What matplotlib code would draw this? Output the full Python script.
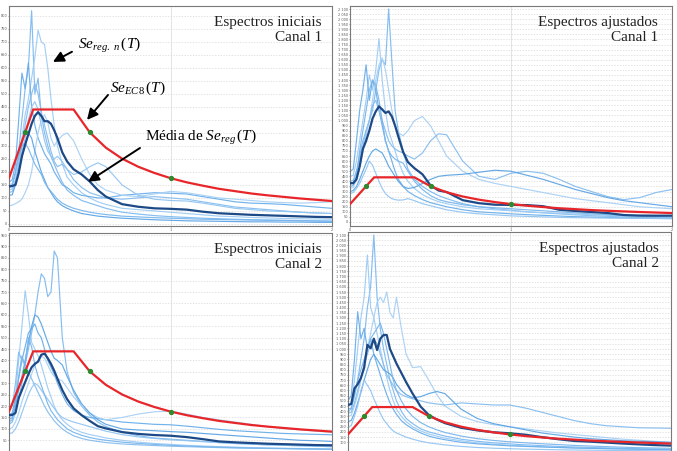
import matplotlib
matplotlib.use("Agg")
import matplotlib.pyplot as plt
import numpy as np

# ---------------- data ----------------
periods = [0, 0.02, 0.04, 0.06, 0.08, 0.10, 0.12, 0.14, 0.16, 0.18, 0.20, 0.22, 0.24, 0.26, 0.28,
           0.30, 0.33, 0.36, 0.40, 0.45, 0.50, 0.55, 0.60, 0.70, 0.80, 0.90, 1.00, 1.10, 1.20, 1.30,
           1.40, 1.50, 1.60, 1.70, 1.80, 1.90, 2.00]

# EC8 elastic spectrum (corner periods and ordinates)
ec8_T = [0.0, 0.15, 0.40, 0.50, 0.60, 0.70, 0.80, 0.90, 1.00, 1.10, 1.20, 1.30, 1.40, 1.50, 1.60, 1.70, 1.80, 1.90, 2.00]
ec8_Se = [176, 440, 440, 352, 293, 251, 220, 196, 176, 160, 147, 135, 126, 117, 110, 104, 98, 93, 88]
ec8_dots_T = [0.1, 0.5, 1.0]
ec8_dots_Se = [352, 352, 176]

# --- Espectros iniciais, Canal 1
tl_mean = [144, 146, 150, 195, 260, 305, 345, 385, 415, 430, 415, 395, 395, 385, 360, 330, 275, 240, 210, 190,
           163, 130, 105, 76, 66, 60, 58, 55, 47, 41, 38, 35, 33, 31, 29, 27, 26]
tl_r1 = [140, 150, 200, 280, 400, 520, 600, 820, 500, 560, 420, 350, 300, 260, 230, 200, 160, 130, 110, 90,
         80, 70, 60, 45, 38, 32, 28, 25, 22, 20, 18, 16, 15, 14, 13, 12, 11]
tl_r2 = [150, 155, 190, 250, 330, 420, 480, 560, 640, 745, 700, 690, 600, 480, 380, 300, 230, 180, 150, 120,
         100, 85, 75, 60, 55, 50, 45, 40, 35, 30, 28, 25, 23, 21, 20, 19, 18]
tl_r3 = [160, 170, 230, 400, 580, 520, 620, 450, 380, 330, 300, 270, 250, 230, 200, 180, 150, 140, 120, 110,
         105, 100, 100, 110, 115, 120, 118, 115, 105, 95, 85, 80, 78, 75, 70, 65, 60]
tl_r4 = [70, 72, 78, 85, 95, 120, 150, 200, 280, 350, 400, 420, 390, 330, 300, 320, 340, 350, 320, 250,
         190, 150, 130, 110, 105, 115, 125, 120, 110, 100, 95, 90, 85, 82, 80, 82, 85]
tl_r5 = [120, 125, 160, 230, 300, 380, 450, 500, 540, 500, 430, 380, 330, 280, 240, 220, 230, 210, 170, 140,
         120, 110, 100, 95, 100, 105, 100, 95, 85, 75, 65, 60, 55, 50, 45, 42, 40]
tl_r6 = [110, 112, 150, 210, 260, 300, 350, 330, 280, 240, 200, 170, 140, 120, 100, 85, 70, 60, 50, 40,
         35, 30, 27, 22, 19, 16, 14, 12, 11, 10, 9, 8, 8, 7, 7, 6, 6]
tl_r7 = [130, 135, 170, 220, 280, 330, 400, 450, 470, 440, 380, 320, 280, 260, 250, 260, 240, 210, 190, 200,
         220, 235, 220, 150, 110, 95, 90, 88, 80, 70, 60, 55, 50, 48, 45, 42, 40]
tl_r8 = [140, 145, 200, 260, 300, 310, 290, 260, 230, 210, 190, 160, 140, 125, 110, 95, 80, 70, 60, 52,
         45, 40, 36, 30, 27, 24, 22, 20, 18, 17, 16, 15, 14, 13, 12, 11, 10]

# --- Espectros ajustados, Canal 1
tr_mean = [382, 382, 420, 546, 720, 800, 900, 1020, 1090, 1140, 1110, 1075, 1090, 1040, 950, 842, 690, 590, 530, 470,
           360, 310, 295, 215, 185, 170, 168, 166, 155, 120, 108, 98, 88, 68, 63, 62, 62]
tr_r1 = [380, 390, 500, 650, 800, 900, 1000, 1100, 1300, 1500, 1600, 1550, 2100, 1580, 1100, 900, 700, 520, 420, 350,
         300, 260, 230, 180, 150, 130, 115, 100, 90, 80, 70, 62, 56, 50, 46, 42, 40]
tr_r2 = [450, 460, 600, 800, 1000, 1200, 1450, 1300, 1500, 1810, 1400, 1100, 900, 800, 700, 600, 480, 400, 330, 270,
         230, 200, 180, 150, 130, 120, 110, 100, 92, 85, 78, 70, 65, 60, 55, 50, 45]
tr_r3 = [500, 520, 800, 1100, 1300, 1550, 1200, 1400, 1300, 1100, 950, 800, 700, 600, 500, 420, 350, 300, 260, 220,
         190, 170, 150, 120, 100, 90, 80, 72, 65, 58, 52, 48, 44, 40, 37, 35, 33]
tr_r4 = [330, 340, 420, 550, 700, 850, 1000, 1200, 1400, 1550, 1620, 1500, 1300, 1100, 950, 880, 850, 900, 1000, 1040,
         950, 800, 650, 500, 420, 380, 350, 320, 290, 260, 230, 210, 190, 170, 150, 140, 130]
tr_r5 = [400, 410, 500, 600, 750, 900, 1000, 1150, 1200, 1100, 1000, 900, 800, 750, 720, 700, 680, 650, 620, 680,
         800, 870, 860, 600, 450, 420, 480, 500, 480, 420, 350, 300, 250, 220, 240, 290, 320]
tr_r6 = [300, 310, 350, 420, 500, 580, 650, 700, 720, 700, 680, 620, 550, 500, 450, 400, 350, 330, 340, 380,
         420, 450, 460, 470, 490, 510, 500, 460, 420, 370, 320, 280, 240, 210, 190, 170, 150]
tr_r7 = [280, 290, 330, 380, 450, 520, 600, 560, 480, 400, 330, 280, 250, 230, 220, 215, 217, 230, 210, 180,
         160, 140, 120, 95, 80, 70, 60, 55, 50, 45, 42, 40, 38, 36, 35, 34, 33]
tr_r8 = [350, 360, 450, 700, 900, 1100, 1300, 1400, 1350, 1200, 1000, 800, 700, 650, 620, 600, 580, 500, 400, 320,
         260, 220, 200, 170, 150, 140, 130, 120, 110, 100, 90, 80, 72, 65, 58, 52, 48]

# --- Espectros iniciais, Canal 2
bl_mean = [161, 161, 170, 235, 270, 305, 340, 370, 385, 395, 425, 430, 410, 385, 355, 320, 270, 230, 190, 160,
           135, 112, 102, 86, 78, 73, 70, 64, 55, 45, 41, 38, 35, 33, 31, 29, 28]
bl_r1 = [120, 130, 170, 230, 300, 380, 450, 520, 600, 700, 780, 760, 680, 700, 880, 850, 500, 350, 260, 200,
         160, 130, 110, 85, 70, 60, 55, 50, 45, 40, 36, 33, 30, 28, 26, 24, 22]
bl_r2 = [150, 160, 250, 400, 550, 706, 600, 480, 450, 420, 380, 330, 280, 240, 200, 170, 140, 120, 100, 85,
         75, 68, 60, 50, 42, 36, 32, 28, 25, 22, 20, 18, 16, 15, 14, 13, 12]
bl_r3 = [160, 170, 230, 320, 400, 460, 520, 540, 560, 520, 500, 450, 400, 370, 340, 300, 250, 210, 180, 160,
         150, 145, 140, 130, 125, 120, 118, 112, 105, 98, 92, 88, 84, 80, 78, 76, 74]
bl_r4 = [100, 105, 130, 170, 220, 260, 300, 340, 380, 400, 420, 410, 380, 350, 330, 320, 310, 280, 240, 200,
         170, 150, 140, 150, 165, 175, 178, 165, 150, 140, 130, 120, 110, 102, 96, 90, 85]
bl_r5 = [180, 200, 300, 437, 400, 380, 350, 320, 290, 260, 230, 200, 175, 155, 135, 120, 100, 85, 70, 58,
         50, 45, 40, 34, 30, 27, 24, 22, 20, 18, 16, 15, 14, 13, 12, 11, 10]
bl_r6 = [140, 150, 200, 270, 330, 400, 480, 550, 600, 590, 560, 520, 480, 440, 410, 400, 380, 330, 270, 210,
         170, 140, 120, 100, 95, 92, 88, 85, 80, 75, 70, 65, 60, 55, 50, 48, 45]
bl_r7 = [80, 82, 100, 130, 170, 210, 250, 280, 300, 290, 270, 250, 230, 210, 190, 170, 150, 140, 130, 120,
         110, 100, 90, 75, 65, 58, 52, 48, 44, 40, 36, 33, 30, 28, 26, 24, 22]
bl_r8 = [130, 140, 220, 330, 420, 380, 500, 460, 380, 330, 290, 250, 210, 180, 160, 140, 120, 100, 85, 72,
         62, 55, 50, 42, 36, 32, 28, 25, 22, 20, 18, 16, 15, 14, 13, 12, 11]

# --- Espectros ajustados, Canal 2
br_mean = [460, 470, 620, 660, 720, 820, 1040, 1007, 1100, 990, 1100, 1135, 1135, 1000, 930, 860, 770, 680, 570, 444,
           364, 320, 285, 240, 215, 197, 187, 173, 150, 130, 113, 106, 97, 88, 80, 73, 68]
br_r1 = [400, 420, 550, 700, 900, 1100, 1400, 1600, 2100, 1500, 1200, 1000, 850, 700, 600, 500, 400, 330, 280, 230,
         200, 180, 160, 130, 110, 95, 85, 75, 68, 60, 55, 50, 46, 42, 38, 35, 32]
br_r2 = [450, 470, 700, 1000, 1300, 1500, 1907, 1400, 1300, 1150, 1000, 850, 720, 600, 500, 420, 350, 300, 250, 210,
         180, 160, 140, 115, 95, 82, 72, 64, 57, 51, 46, 42, 38, 35, 32, 30, 28]
br_r3 = [500, 550, 900, 1360, 1100, 1200, 1000, 1100, 950, 850, 750, 650, 560, 480, 420, 370, 310, 270, 230, 190,
         160, 140, 125, 100, 85, 75, 66, 60, 55, 50, 45, 42, 39, 36, 33, 31, 29]
br_r4 = [350, 360, 450, 560, 700, 850, 1000, 1150, 1300, 1450, 1500, 1450, 1550, 1350, 1300, 1500, 1200, 950, 820, 830,
         700, 560, 450, 350, 300, 270, 250, 230, 210, 190, 175, 160, 145, 130, 120, 110, 100]
br_r5 = [380, 390, 480, 600, 720, 850, 950, 1050, 1100, 1050, 950, 850, 750, 700, 650, 600, 560, 540, 520, 500,
         480, 470, 460, 480, 470, 460, 460, 430, 390, 350, 310, 280, 260, 250, 240, 238, 235]
br_r6 = [300, 310, 380, 480, 580, 700, 800, 900, 950, 900, 850, 800, 780, 760, 720, 660, 600, 560, 530, 540,
         570, 590, 570, 420, 330, 280, 250, 220, 190, 170, 150, 135, 125, 115, 110, 105, 100]
br_r7 = [250, 260, 350, 450, 600, 700, 650, 600, 520, 450, 380, 320, 280, 240, 210, 190, 170, 150, 130, 110,
         95, 85, 75, 60, 50, 43, 38, 34, 31, 28, 26, 24, 22, 21, 20, 19, 18]
br_r8 = [420, 430, 550, 700, 800, 900, 1000, 1100, 1150, 1200, 1250, 1150, 1000, 850, 700, 600, 500, 420, 350, 290,
         250, 220, 195, 160, 135, 118, 105, 95, 86, 78, 70, 64, 58, 53, 48, 45, 42]

panel_titles = ["Espectros iniciais\nCanal 1", "Espectros ajustados\nCanal 1",
                "Espectros iniciais\nCanal 2", "Espectros ajustados\nCanal 2"]

# ---------------- style ----------------
light_colors = ["#7fbaf0", "#9fccf5", "#6aaeea", "#a8d0f4", "#86bdef", "#5da4e4", "#93c5f2", "#78b5ec"]
mean_color = "#1d4a86"
red = "#e8262a"
dot_color = "#2f8a2f"

plt.rcParams["font.family"] = ["DejaVu Sans"]
plt.rcParams["mathtext.fontset"] = "custom"
plt.rcParams["mathtext.rm"] = "Liberation Serif"
plt.rcParams["mathtext.it"] = "Liberation Serif:italic"

W, H = 677, 451
fig = plt.figure(figsize=(W / 100, H / 100), dpi=100)


def px_axes(left, top, right, bottom):
    return fig.add_axes([left / W, 1 - bottom / H, (right - left) / W, (bottom - top) / H])


def fmt(v):
    s = str(int(v))
    if len(s) > 3:
        s = s[:-3] + " " + s[-3:]
    return s


def draw_panel(ax, records, mean, ymin_tick, ymax_tick, ylim, title, title_x, show_x=True):
    for k, rec in enumerate(records):
        ax.plot(periods, rec, color=light_colors[k % len(light_colors)], lw=0.85, alpha=0.95, zorder=2)
    ax.plot(periods, mean, color=mean_color, lw=1.6, zorder=3)
    ax.plot(ec8_T, ec8_Se, color=red, lw=1.6, zorder=4)
    ax.plot(ec8_dots_T, ec8_dots_Se, 'o', color=dot_color, ms=2.8, zorder=5)
    ax.set_xlim(0, 2)
    ax.set_ylim(*ylim)
    yt = np.arange(ymin_tick, ymax_tick + 1, 50)
    ax.set_yticks(yt)
    ax.set_yticklabels([fmt(v) for v in yt])
    ax.set_xticks([0, 1, 2])
    ax.set_xticklabels(["0", "1", "2"])
    ax.tick_params(axis='both', labelsize=2.5, length=1, width=0.4, pad=0.3, colors="#555555")
    ax.grid(axis='y', color="#d8d8d8", lw=0.5, ls=(0, (2, 2)))
    ax.grid(axis='x', color="#d8d8d8", lw=0.5, ls='-')
    ax.set_axisbelow(True)
    for sp in ax.spines.values():
        sp.set_color("#7a7a7a")
        sp.set_linewidth(0.8)
    if not show_x:
        ax.spines['bottom'].set_visible(False)
        ax.tick_params(axis='x', labelbottom=False, length=0)
    ax.text(title_x, 0.955, title, transform=ax.transAxes, ha='right', va='top',
            fontsize=11, family="Liberation Serif", linespacing=1.2, color="#222222")


ax_tl = px_axes(9, 6, 332, 226)
ax_tr = px_axes(350, 6, 672, 226)
ax_bl = px_axes(9, 233, 332, 451)
ax_br = px_axes(348, 232, 671, 451)

draw_panel(ax_tl, [tl_r1, tl_r2, tl_r3, tl_r4, tl_r5, tl_r6, tl_r7, tl_r8], tl_mean,
           0, 800, (-8, 838), panel_titles[0], 0.969)
draw_panel(ax_tr, [tr_r1, tr_r2, tr_r3, tr_r4, tr_r5, tr_r6, tr_r7, tr_r8], tr_mean,
           0, 2100, (-40, 2130), panel_titles[1], 0.957)
draw_panel(ax_bl, [bl_r1, bl_r2, bl_r3, bl_r4, bl_r5, bl_r6, bl_r7, bl_r8], bl_mean,
           50, 950, (3, 959), panel_titles[2], 0.969, show_x=False)
draw_panel(ax_br, [br_r1, br_r2, br_r3, br_r4, br_r5, br_r6, br_r7, br_r8], br_mean,
           100, 2100, (16, 2129), panel_titles[3], 0.963, show_x=False)

# annotations on the first panel
arrow_kw = dict(arrowstyle='-|>', color='black', lw=1.4, mutation_scale=16, shrinkA=0, shrinkB=0)
ax_tl.annotate('', xy=(0.272, 623), xytext=(0.39, 662), arrowprops=arrow_kw, zorder=6)
ax_tl.annotate('', xy=(0.483, 400), xytext=(0.613, 496), arrowprops=arrow_kw, zorder=6)
ax_tl.annotate('', xy=(0.489, 162), xytext=(0.811, 292), arrowprops=arrow_kw, zorder=6)
ax_tl.text(0.427, 688, r"$Se_{reg.\ n}\,(T)$", fontsize=11, ha='left', va='center', zorder=6)
ax_tl.text(0.625, 523, r"$Se_{EC8}\,(T)$", fontsize=11, ha='left', va='center', zorder=6)
ax_tl.text(0.842, 331, r"Média de $Se_{reg}\,(T)$", fontsize=11, ha='left', va='center',
           family="Liberation Serif", zorder=6)

fig.savefig("out.png", dpi=100)
